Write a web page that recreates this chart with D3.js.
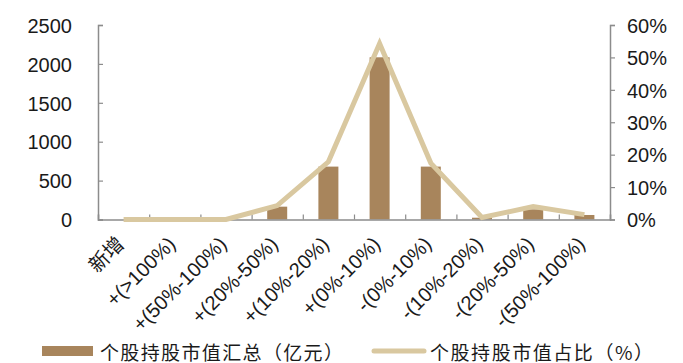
<!DOCTYPE html>
<html>
<head>
<meta charset="utf-8">
<script src="https://cdn.jsdelivr.net/npm/d3@7/dist/d3.min.js"></script>
<style>
  html, body { margin: 0; padding: 0; background: #fff; }
  svg { display: block; }
</style>
</head>
<body>
<svg id="chart" width="683" height="363"></svg>
<script>
// Holdings grouped by change in position
const categories = ["新增", "+(>100%)", "+(50%-100%)", "+(20%-50%)", "+(10%-20%)", "+(0%-10%)", "-(0%-10%)", "-(10%-20%)", "-(20%-50%)", "-(50%-100%)"];
// 个股持股市值汇总（亿元）
const marketValue = [0, 0, 0, 165, 680, 2085, 680, 23, 131, 58];
// 个股持股市值占比（%）
const sharePct = [0, 0, 0, 4.3, 17.8, 54.3, 17.4, 0.6, 4.0, 1.5];
const leftTicks = [0, 500, 1000, 1500, 2000, 2500];
const rightTicks = [0, 10, 20, 30, 40, 50, 60];
const legendLabels = ["个股持股市值汇总（亿元）", "个股持股市值占比（%）"];

const barColor = "#a8855c";
const lineColor = "#d9c8a0";
const axisColor = "#8c8c8c";
const textColor = "#1a1a1a";
const latin = "Liberation Sans, Arial, sans-serif";
const cjk = "'Noto Sans CJK SC', sans-serif";

const svg = d3.select("#chart");
const plotLeft = 98, plotRight = 610, plotTop = 25, plotBottom = 219.5;

const x = d3.scaleBand().domain(categories).range([plotLeft, plotRight]).paddingInner(0).paddingOuter(0);
const yL = d3.scaleLinear().domain([0, 2500]).range([plotBottom, plotTop]);
const yR = d3.scaleLinear().domain([0, 60]).range([plotBottom, plotTop]);

// Bars
svg.append("g").selectAll("rect")
  .data(marketValue)
  .join("rect")
  .attr("x", (d, i) => x(categories[i]) + x.bandwidth() / 2 - 10)
  .attr("width", 20)
  .attr("y", d => yL(d))
  .attr("height", d => plotBottom - yL(d))
  .attr("fill", barColor);

// Left axis
const gL = svg.append("g").attr("transform", `translate(${plotLeft},0)`)
  .call(d3.axisLeft(yL).tickValues(leftTicks).tickSize(-5).tickPadding(26).tickFormat(d3.format("d")));
// Right axis
const gR = svg.append("g").attr("transform", `translate(${plotRight},0)`)
  .call(d3.axisRight(yR).tickValues(rightTicks).tickSize(5).tickPadding(12).tickFormat(d => d + "%"));
// Bottom axis
const xBoundaries = d3.scaleLinear().domain([0, categories.length]).range([plotLeft, plotRight]);
const gB = svg.append("g").attr("transform", `translate(0,${plotBottom})`)
  .call(d3.axisBottom(xBoundaries).ticks(categories.length).tickSize(-5).tickFormat(""));

[gL, gR, gB].forEach(g => {
  g.select(".domain").attr("stroke", axisColor).attr("stroke-width", 1.5);
  g.selectAll(".tick line").attr("stroke", axisColor).attr("stroke-width", 1.2);
  g.selectAll("text").attr("fill", textColor).style("font-family", latin).style("font-size", "20px");
});
gL.selectAll("text").attr("dy", "0.36em");
gR.selectAll("text").attr("dy", "0.36em");

// Share line
const line = d3.line()
  .x((d, i) => x(categories[i]) + x.bandwidth() / 2)
  .y(d => yR(d));
svg.append("path")
  .datum(sharePct)
  .attr("d", line)
  .attr("fill", "none")
  .attr("stroke", lineColor)
  .attr("stroke-width", 5)
  .attr("stroke-linejoin", "miter");

// Category labels, rotated
svg.append("g").selectAll("text")
  .data(categories)
  .join("text")
  .attr("transform", (d, i) => `translate(${x(d) + x.bandwidth() / 2 - 8},${plotBottom + 16}) rotate(-45)`)
  .attr("text-anchor", "end")
  .attr("dy", "0.7em")
  .attr("fill", textColor)
  .style("font-family", (d, i) => i === 0 ? cjk : latin)
  .style("font-size", "20px")
  .text(d => d);

// Legend
const lg = svg.append("g");
lg.append("rect").attr("x", 42).attr("y", 346).attr("width", 51).attr("height", 10).attr("fill", barColor);
lg.append("text").attr("x", 100).attr("y", 351)
  .attr("dominant-baseline", "central")
  .attr("textLength", 243).attr("lengthAdjust", "spacing")
  .attr("fill", textColor).style("font-family", cjk).style("font-size", "19px").text(legendLabels[0]);
lg.append("line").attr("x1", 374).attr("x2", 424).attr("y1", 351).attr("y2", 351)
  .attr("stroke", lineColor).attr("stroke-width", 5).attr("stroke-linecap", "round");
lg.append("text").attr("x", 430).attr("y", 351)
  .attr("dominant-baseline", "central")
  .attr("textLength", 223).attr("lengthAdjust", "spacing")
  .attr("fill", textColor).style("font-family", cjk).style("font-size", "19px").text(legendLabels[1]);
</script>
</body>
</html>
